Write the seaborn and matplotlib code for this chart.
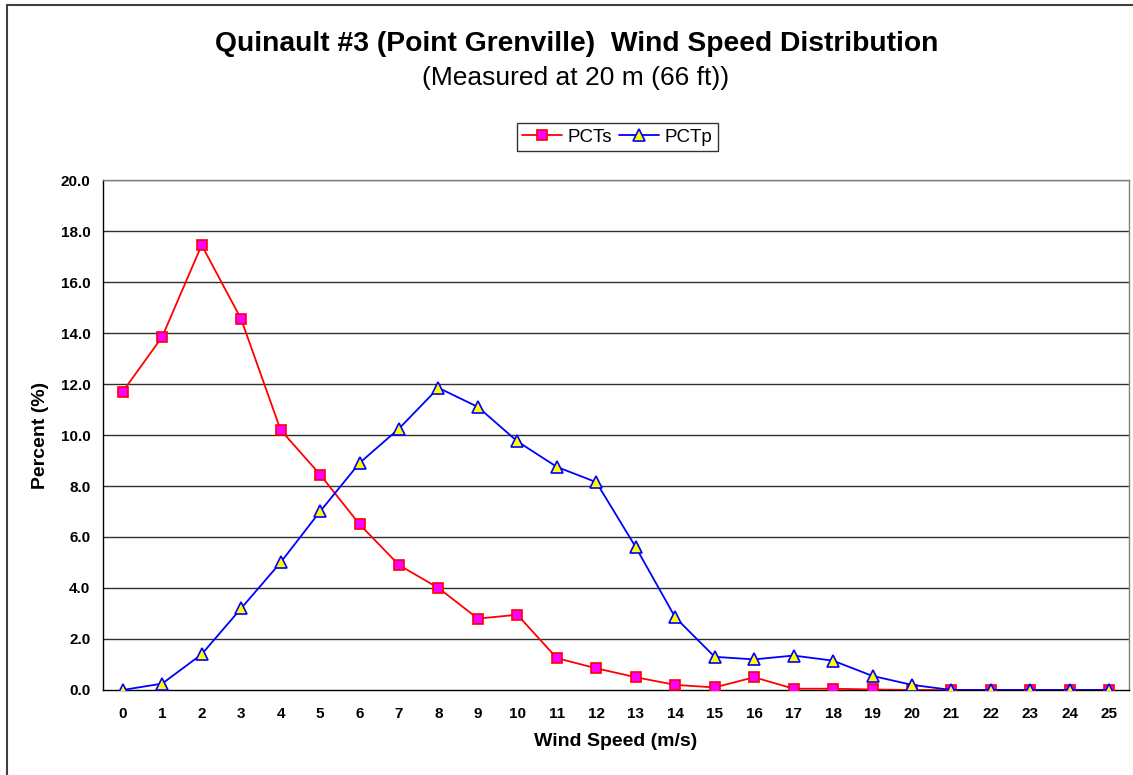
import numpy as np
import pandas as pd
import matplotlib
matplotlib.use("Agg")
import matplotlib.pyplot as plt
import seaborn as sns
from matplotlib.patches import Rectangle

# -------------------------
# DATA
# -------------------------
wind_speed = list(range(26))
pct_s = [11.7, 13.85, 17.45, 14.55, 10.2, 8.45, 6.5, 4.9, 4.0, 2.8, 2.95, 1.25, 0.85,
         0.5, 0.2, 0.1, 0.5, 0.05, 0.05, 0.02, 0.0, 0.0, 0.0, 0.0, 0.0, 0.0]
pct_p = [0.0, 0.25, 1.4, 3.2, 5.0, 7.0, 8.9, 10.25, 11.85, 11.1, 9.75, 8.75, 8.15,
         5.6, 2.85, 1.3, 1.2, 1.35, 1.15, 0.55, 0.2, 0.0, 0.0, 0.0, 0.0, 0.0]
y_ticks = np.arange(0, 20.1, 2.0)

df = pd.DataFrame({"speed": wind_speed, "PCTs": pct_s, "PCTp": pct_p})

# -------------------------
# PLOT
# -------------------------
sns.set_style("white")
plt.rcParams["font.family"] = ["Liberation Sans", "DejaVu Sans"]
plt.rcParams["text.color"] = "black"
plt.rcParams["axes.labelcolor"] = "black"
plt.rcParams["xtick.color"] = "black"
plt.rcParams["ytick.color"] = "black"

fig = plt.figure(figsize=(11.33, 7.75), dpi=100)
ax = fig.add_axes([0.0909, 0.1097, 0.9965 - 0.0909, 0.7677 - 0.1097])

# outer chart frame
fig.patches.append(Rectangle((7 / 1133, -0.01), 1.2, (775 - 5) / 775 + 0.01,
                             transform=fig.transFigure, fill=False,
                             edgecolor="#404040", linewidth=1.5, zorder=0))

for yv in y_ticks[1:]:
    ax.axhline(yv, color="#303030", linewidth=1.0, zorder=1)

sns.lineplot(data=df, x="speed", y="PCTs", ax=ax, color="red", linewidth=1.3,
             marker="s", markersize=7, markerfacecolor="#ff00ff",
             markeredgecolor="red", markeredgewidth=1.2, label="PCTs", zorder=3)
sns.lineplot(data=df, x="speed", y="PCTp", ax=ax, color="blue", linewidth=1.3,
             marker="^", markersize=8, markerfacecolor="#ffff00",
             markeredgecolor="blue", markeredgewidth=1.2, label="PCTp", zorder=4)

ax.set_xlim(-0.5, 25.5)
ax.set_ylim(0, 20)
ax.set_yticks(y_ticks)
ax.set_yticklabels([f"{v:.1f}" for v in y_ticks], fontsize=11, fontweight="bold")
ax.set_xticks(wind_speed)
ax.set_xticklabels([str(v) for v in wind_speed], fontsize=11, fontweight="bold")
ax.set_xticks(np.arange(-0.5, 25.6, 1.0), minor=True)
ax.tick_params(axis="x", which="major", length=0, pad=12)
ax.tick_params(axis="x", which="minor", length=5, width=1, color="black", direction="out")
ax.tick_params(axis="y", which="major", length=5, width=1, color="black", direction="out", pad=4)

for side in ["left", "bottom"]:
    ax.spines[side].set_color("black")
    ax.spines[side].set_linewidth(1.0)
for side in ["top", "right"]:
    ax.spines[side].set_color("#808080")
    ax.spines[side].set_linewidth(1.0)

ax.set_xlabel("Wind Speed (m/s)", fontsize=14, fontweight="bold", labelpad=9)
ax.set_ylabel("Percent (%)", fontsize=14, fontweight="bold", labelpad=8.5)

fig.text(577 / 1133, 1 - 44 / 775, "Quinault #3 (Point Grenville)  Wind Speed Distribution",
         ha="center", va="center", fontsize=20.3, fontweight="bold")
fig.text(576 / 1133, 1 - 78 / 775, "(Measured at 20 m (66 ft))", ha="center", va="center", fontsize=19)

leg = ax.legend(loc="center", bbox_to_anchor=(617 / 1133, 1 - 137 / 775),
                bbox_transform=fig.transFigure, ncol=2, frameon=True, fancybox=False,
                fontsize=13.5, handlelength=2.1, handletextpad=0.3, columnspacing=0.4,
                borderpad=0.3, edgecolor="black")
leg.get_frame().set_linewidth(1.0)

plt.savefig("out.png", dpi=100)
plt.close()
